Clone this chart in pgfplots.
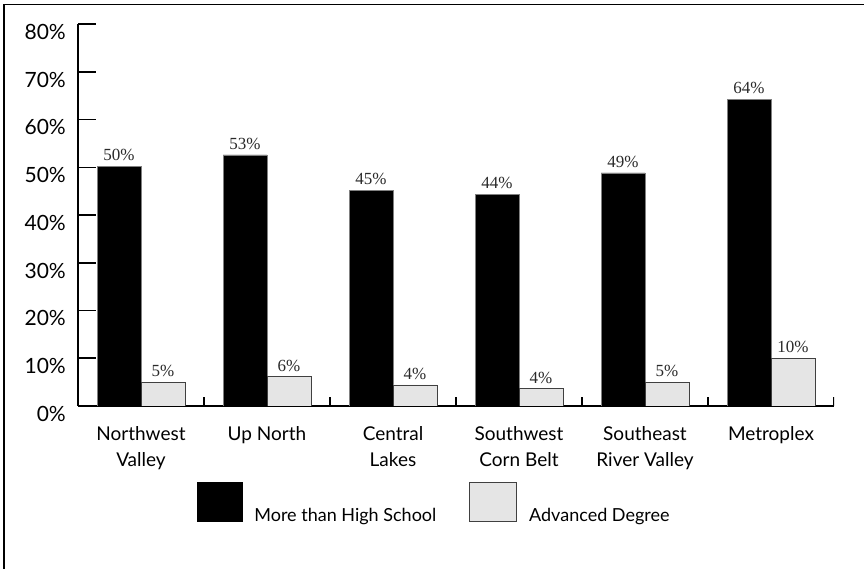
\documentclass[border=0pt]{standalone}
\usepackage{fontspec}
\setmainfont{Lato}
\newfontfamily\labelfont{Liberation Serif}
\usepackage{pgfplots}
\pgfplotsset{compat=1.18}

\definecolor{lightbar}{HTML}{E5E5E5}
\definecolor{baredge}{HTML}{404040}
\definecolor{labeltext}{HTML}{2A2A2A}

\begin{document}
\begin{tikzpicture}
\useasboundingbox (0,0) rectangle (864bp,569bp);
% outer frame, only top and left edges are visible
\draw[line width=1.6bp] (4bp,-10bp) -- (4bp,564.5bp) -- (880bp,564.5bp);
\begin{axis}[
    at={(78bp,163bp)}, anchor=south west,
    scale only axis, width=756bp, height=382bp,
    ybar=0pt, bar width=44bp,
    xmin=0.5, xmax=6.5, ymin=0, ymax=80,
    axis lines*=left,
    axis line style={line width=1.5bp, black},
    /pgf/number format/assume math mode=true,
    ytick={0,10,...,80},
    yticklabel={\pgfmathprintnumber{\tick}\%},
    yticklabel style={anchor=north east, inner sep=0pt, xshift=-12bp,
        font=\fontsize{21bp}{24bp}\selectfont},
    tick align=inside, major tick length=18bp,
    ytick style={line width=1.5bp, black},
    xtick={1,...,6},
    xticklabels={{Northwest\\Valley},{Up North},{Central\\Lakes},
        {Southwest\\Corn Belt},{Southeast\\River Valley},{Metroplex}},
    xtick style={draw=none},
    xticklabel style={align=center, anchor=north, inner sep=0pt, yshift=-20bp,
        font=\fontsize{19bp}{26bp}\selectfont},
    nodes near coords={\pgfmathprintnumber[fixed,precision=0]{\pgfplotspointmeta}\%},
    nodes near coords style={font=\labelfont\fontsize{17bp}{19bp}\selectfont,
        inner sep=0pt, anchor=south, yshift=5bp, text=labeltext},
    legend columns=2,
    legend cell align=left,
    legend style={draw=none, fill=none, at={(0.157,-0.244)}, anchor=west,
        inner sep=0pt, font=\fontsize{18bp}{20bp}\selectfont,
        /tikz/every odd column/.append style={column sep=10bp},
        /tikz/every even column/.append style={column sep=31bp}},
]
\addplot[fill=black, draw=gray, line width=0.5bp,
    legend image code/.code={\draw[fill=black, draw=black, line width=0.5bp] (0bp,-6bp) rectangle (45bp,33bp);
        \path (0bp,41bp);}]
    coordinates {(1,50.2)(2,52.6)(3,45.2)(4,44.3)(5,48.8)(6,64.2)};
\addplot[fill=lightbar, draw=baredge, line width=0.8bp,
    legend image code/.code={\draw[fill=lightbar, draw=baredge, line width=0.8bp] (0bp,-6bp) rectangle (47bp,33bp);
        \path (0bp,41bp);}]
    coordinates {(1,5.0)(2,6.1)(3,4.4)(4,3.6)(5,5.0)(6,10.0)};
\legend{More than High School, Advanced Degree}
% short ticks between the regions
\pgfplotsinvokeforeach{1.5,2.5,3.5,4.5,5.5,6.5}{
    \draw[line width=1.5bp] (axis cs:#1,0) -- ++(0bp,9bp);
}
\end{axis}
\end{tikzpicture}
\end{document}
